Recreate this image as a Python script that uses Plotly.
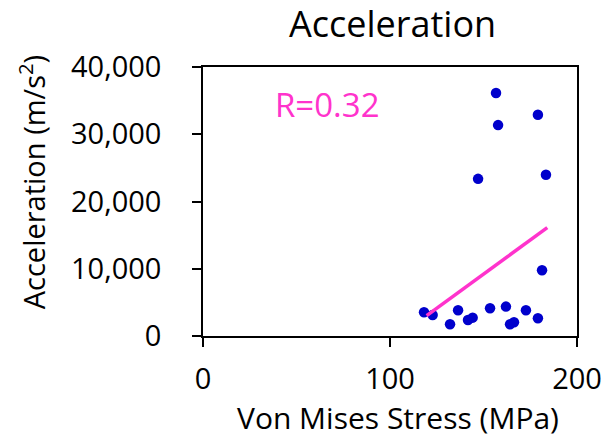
import plotly.graph_objects as go

# Data
stress_mpa = [156.7, 179.1, 157.8, 147.1, 183.4, 181.3, 118.2, 122.8, 132.1,
              136.4, 141.7, 144.2, 153.5, 162.0, 164.2, 166.3, 172.7, 179.1]
accel = [36130, 32900, 31360, 23370, 23970, 9780, 3530, 3130, 1740,
         3820, 2380, 2730, 4120, 4370, 1740, 2040, 3820, 2630]

trend_x = [119.6, 184.1]
trend_y = [3020, 16120]

x_ticks = [0, 100, 200]
y_ticks = [0, 10000, 20000, 30000, 40000]

FONT = "Open Sans, DejaVu Sans, sans-serif"
W, H = 601, 437
L, R, T, B = 202.7, 24, 67.3, 101
pw, ph = W - L - R, H - T - B


def px(x):
    return (x - L) / pw


def py(y):
    return (H - B - y) / ph


fig = go.Figure()
fig.add_trace(go.Scatter(x=stress_mpa, y=accel, mode="markers",
                         marker=dict(size=10.5, color="#0000CC"),
                         showlegend=False, hoverinfo="skip"))
fig.add_trace(go.Scatter(x=trend_x, y=trend_y, mode="lines",
                         line=dict(color="#FF33CC", width=3.5),
                         showlegend=False, hoverinfo="skip"))

axis_common = dict(showline=True, linecolor="black", linewidth=1.5, mirror=True,
                   ticks="outside", ticklen=9, tickwidth=1.5, tickcolor="black",
                   showgrid=False, zeroline=False, ticklabeloverflow="allow",
                   automargin=False,
                   tickfont=dict(family=FONT, size=29, color="black"))

fig.update_xaxes(range=[0, 200], tickvals=x_ticks, ticklabelstandoff=7, **axis_common)
fig.update_yaxes(range=[0, 40000], tickvals=y_ticks, tickformat=",",
                 ticklabelstandoff=25, **axis_common)

fig.update_layout(
    width=W, height=H,
    margin=dict(l=L, r=R, t=T, b=B, pad=0, autoexpand=False),
    paper_bgcolor="white", plot_bgcolor="white",
    annotations=[
        dict(text="Acceleration", x=px(392), y=py(24), xref="paper", yref="paper",
             xanchor="center", yanchor="middle", showarrow=False,
             font=dict(family=FONT, size=36, color="black")),
        dict(text="R=0.32", x=px(272.7), y=py(105), xref="paper", yref="paper",
             xanchor="left", yanchor="middle", showarrow=False,
             font=dict(family=FONT, size=33, color="#FF33CC")),
        dict(text="Von Mises Stress (MPa)", x=px(397.5), y=py(417.5), xref="paper", yref="paper",
             xanchor="center", yanchor="middle", showarrow=False,
             font=dict(family=FONT, size=30, color="black")),
        dict(text="Acceleration (m/s<sup>2</sup>)", x=px(31), y=py(182), xref="paper", yref="paper",
             xanchor="center", yanchor="middle", showarrow=False, textangle=-90,
             font=dict(family=FONT, size=29, color="black")),
    ],
)

fig.write_html("out.html")
